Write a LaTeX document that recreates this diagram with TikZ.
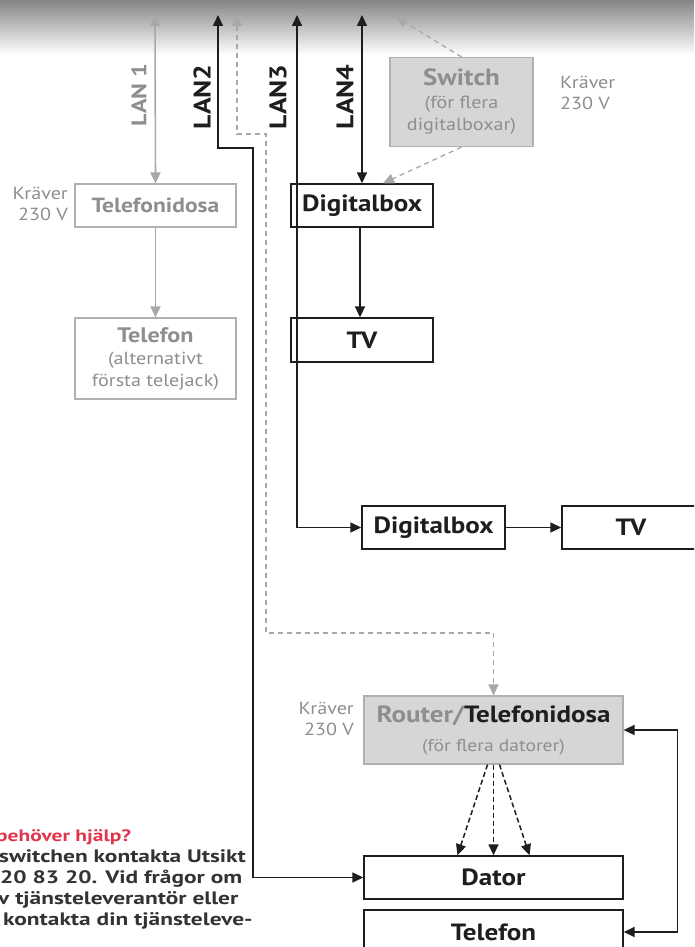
\documentclass[tikz,border=0pt]{standalone}
\usepackage{fontspec}
\setmainfont[FakeStretch=1.15]{PT Sans}
\newfontfamily\bodyfont[FakeStretch=1.3]{PT Sans}
\usetikzlibrary{arrows.meta}
\definecolor{gline}{HTML}{A8A8A8}
\definecolor{gtext}{HTML}{8E8E8E}
\definecolor{gfill}{HTML}{D6D6D6}
\definecolor{gborder}{HTML}{B0B0B0}
\definecolor{redtxt}{HTML}{E0354D}
\definecolor{dark}{HTML}{1E1E1E}
\definecolor{bodytxt}{HTML}{333333}
\begin{document}
\begin{tikzpicture}[x=1pt,y=-1pt,
  tip/.tip={Triangle[length=11pt,width=10pt]},
  box/.style={draw=dark,line width=1.4pt,fill=white,inner sep=0pt,text=dark,align=center,font=\bfseries\fontsize{23.5}{26}\selectfont},
  gbox/.style={draw=gborder,line width=1.2pt,fill=white,inner sep=0pt,text=gtext,align=center},
  fbox/.style={draw=gborder,line width=1.2pt,fill=gfill,inner sep=0pt,text=gtext,align=center},
  blk/.style={draw=dark,line width=1.6pt,-tip},
  blkd/.style={draw=dark,line width=1.6pt,tip-tip},
  gry/.style={draw=gline,line width=1.6pt,-tip},
  gryd/.style={draw=gline,line width=1.6pt,tip-tip},
  grydash/.style={draw=gline,line width=1.3pt,dash pattern=on 5pt off 4pt,-tip},
  grydashd/.style={draw=gline,line width=1.3pt,dash pattern=on 5pt off 4pt,tip-tip},
  bdash/.style={draw=dark,line width=1.5pt,dash pattern=on 5pt off 3pt,-tip},
  lan/.style={rotate=90,inner sep=0pt,font=\bfseries\fontsize{24}{24}\selectfont},
  small/.style={inner sep=0pt,text=gtext,font=\fontsize{17.5}{21}\selectfont},
  body/.style={anchor=base west,inner sep=0pt,text=bodytxt,font=\bodyfont\bfseries\fontsize{18}{21}\selectfont}
]
\useasboundingbox (0,0) rectangle (694,947);
\clip (0,0) rectangle (694,947);
\fill[white] (0,0) rectangle (694,947);
\shade[top color=black!48, bottom color=white] (0,0) rectangle (694,55);

% top coordinates
\coordinate (t1) at (155,15);
\coordinate (t2) at (218,15);
\coordinate (t2b) at (237,15);
\coordinate (t3) at (297,15);
\coordinate (t4) at (362,15);
\coordinate (t5) at (396,17);

% LAN labels
\node[lan,text=gtext,font=\bfseries\fontsize{21}{21}\selectfont] (lan1) at (139,95) {LAN 1};
\node[lan,text=dark] (lan2) at (202,97) {LAN2};
\node[lan,text=dark] (lan3) at (278,97) {LAN3};
\node[lan,text=dark] (lan4) at (345,97) {LAN4};

% boxes
\node[gbox,minimum width=161pt,minimum height=43pt,font=\bfseries\fontsize{20.5}{24}\selectfont] (tdosa) at (155.5,205.5) {Telefonidosa};
\node[gbox,minimum width=161pt,minimum height=81pt,font=\fontsize{17.5}{22}\selectfont] (tfon1) at (155.5,358.5) {{\bfseries\fontsize{21}{22}\selectfont Telefon}\\(alternativt\\första telejack)};
\node[fbox,minimum width=143pt,minimum height=89pt,font=\fontsize{17.5}{22.5}\selectfont] (switch) at (461.5,102) {{\bfseries\fontsize{23.5}{24}\selectfont Switch}\\(för flera\\digitalboxar)};
\node[box,minimum width=142pt,minimum height=43pt] (dbox1) at (362,205.5) {Digitalbox};
\node[box,minimum width=142pt,minimum height=44pt] (tv1) at (362,340) {TV};
\node[box,minimum width=143pt,minimum height=43pt] (dbox2) at (433.5,527.5) {Digitalbox};
\node[box,minimum width=138pt,minimum height=43pt] (tv2) at (631,527.5) {TV};
\node[fbox,minimum width=259pt,minimum height=68pt,font=\fontsize{17}{29}\selectfont] (router) at (493.5,730) {{\bfseries\fontsize{23.5}{26}\selectfont Router/\textcolor{dark}{Telefonidosa}}\\(för flera datorer)};
\node[box,minimum width=259pt,minimum height=43pt] (dator) at (493.5,877.5) {Dator};
\node[box,minimum width=259pt,minimum height=44pt] (tfon2) at (493.5,932) {Telefon};

% Kräver labels
\node[small,align=right,anchor=east] (k1) at (68,204) {Kräver\\230 V};
\node[small,align=left,anchor=west] (k2) at (560,93) {Kräver\\230 V};
\node[small,align=right,anchor=east] (k3) at (354,719) {Kräver\\230 V};

% connectors
\draw[gryd] (t1) -- (tdosa.north);
\draw[gry] (tdosa.south) -- (tfon1.north);
\draw[blkd] (t2) -- (218,148) -- (253,148) |- (dator.west);
\draw[grydashd] (t2b) -- (237,134) -- (266,134) -- (266,633) -| (router.north);
\draw[blkd] (t3) |- (dbox2.west);
\draw[blkd] (t4) -- (dbox1.north);
\draw[grydash] (switch.north) -- (t5);
\draw[grydash] (switch.south) -- ([xshift=21pt]dbox1.north);
\draw[blk] ([xshift=-2pt]dbox1.south) -- ([xshift=-2pt]tv1.north);
\draw[blk] (dbox2.east) -- (tv2.west);
\draw[bdash] ([xshift=-6pt]router.south) -- ([xshift=-36pt]dator.north);
\draw[bdash] (router.south) -- (dator.north);
\draw[bdash] ([xshift=6pt]router.south) -- ([xshift=36pt]dator.north);
\draw[blkd] (router.east) -- ++(54,0) |- (tfon2.east);

% help text
\node[body,text=redtxt,font=\bodyfont\bfseries\fontsize{16.5}{20}\selectfont] (h0) at (-4,841) {behöver hjälp?};
\node[body] (h1) at (-1,862) {switchen kontakta Utsikt};
\node[body] (h2) at (0,883) {20 83 20. Vid frågor om};
\node[body] (h3) at (-2,904) {v tjänsteleverantör eller};
\node[body] (h4) at (3,925) {kontakta din tjänsteleve-};
\end{tikzpicture}
\end{document}
